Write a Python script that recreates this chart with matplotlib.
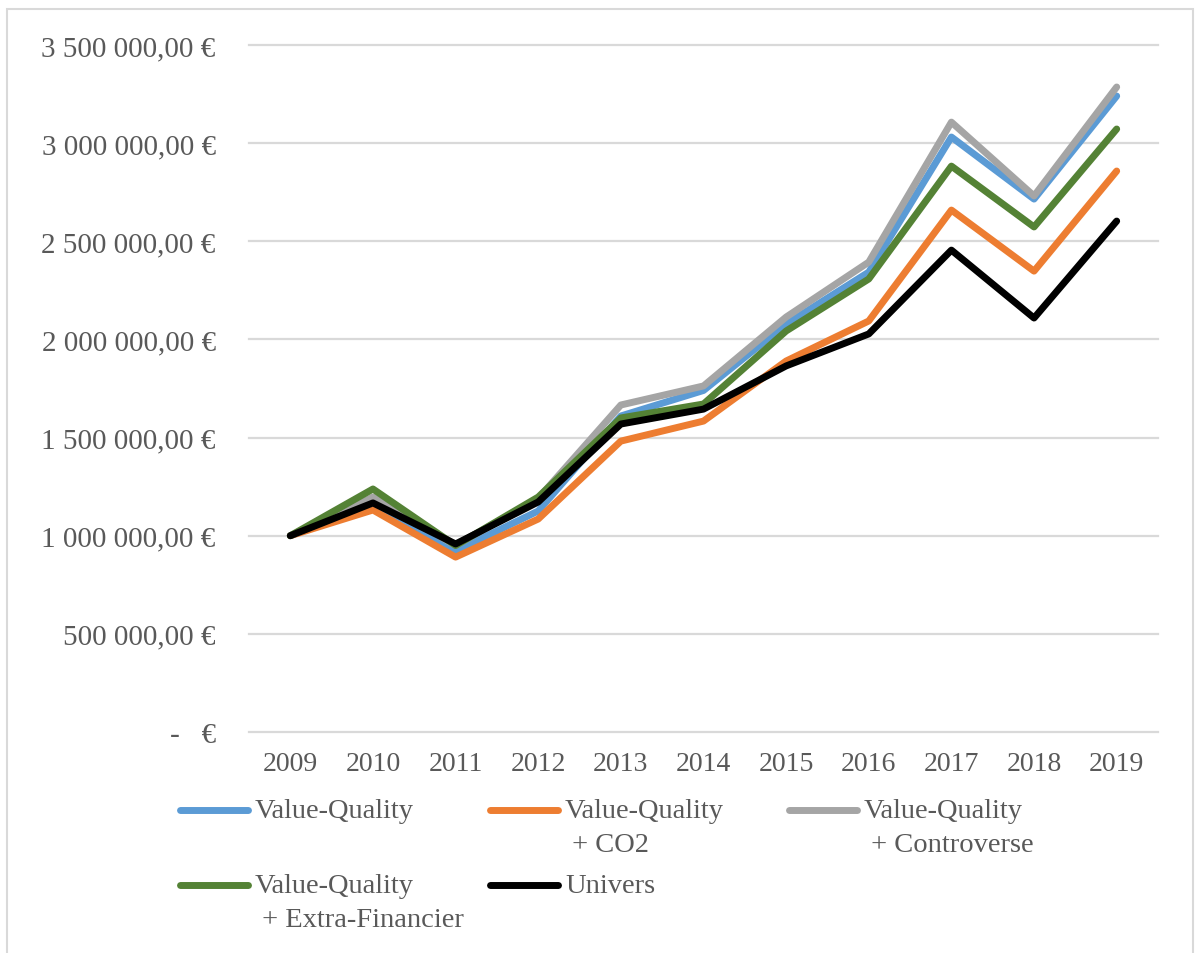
import matplotlib
matplotlib.use('Agg')
import matplotlib.pyplot as plt
from matplotlib.lines import Line2D
from matplotlib.patches import Rectangle
from matplotlib.ticker import FuncFormatter, MultipleLocator

plt.rcParams['font.family'] = ['Liberation Serif', 'DejaVu Serif']

years = ['2009', '2010', '2011', '2012', '2013', '2014', '2015', '2016', '2017', '2018', '2019']

value_quality = [1000000, 1170000, 922000, 1126000, 1610000, 1740000, 2078000, 2343000, 3031000, 2715000, 3240000]
vq_co2 = [1000000, 1131000, 891000, 1085000, 1482000, 1584000, 1890000, 2094000, 2659000, 2348000, 2858000]
vq_controverse = [1000000, 1197000, 950000, 1190000, 1666000, 1763000, 2114000, 2394000, 3107000, 2731000, 3286000]
vq_extra_fin = [1000000, 1238000, 950000, 1197000, 1600000, 1671000, 2043000, 2308000, 2883000, 2573000, 3072000]
univers = [1000000, 1167000, 958000, 1172000, 1569000, 1645000, 1865000, 2028000, 2455000, 2109000, 2603000]

labels = ['Value-Quality', 'Value-Quality\n + CO2', 'Value-Quality\n + Controverse',
          'Value-Quality\n + Extra-Financier', 'Univers']
colors = ['#5B9BD5', '#ED7D31', '#A5A5A5', '#548235', '#000000']
series = [value_quality, vq_co2, vq_controverse, vq_extra_fin, univers]

W, H = 1195, 954
text_col = '#595959'
grid_col = '#D9D9D9'


def fx(x):
    return x / W


def fy(y):
    return 1 - y / H


def euro(v, pos):
    if v == 0:
        return '-   €'
    s = f'{v:,.2f}'.replace(',', ' ').replace('.', ',')
    return s + ' €'


fig = plt.figure(figsize=(W / 100, H / 100), dpi=100)
ax = fig.add_axes([fx(249), fy(733), (1158 - 249) / W, (733 - 46) / H])

x = list(range(len(years)))
for vals, col in zip(series, colors):
    ax.plot(x, vals, color=col, lw=5, solid_capstyle='round', solid_joinstyle='round', zorder=3)

ax.set_xlim(-0.5, len(years) - 0.5)
ax.set_ylim(0, 3500000)
ax.yaxis.set_major_locator(MultipleLocator(500000))
ax.yaxis.set_major_formatter(FuncFormatter(euro))
ax.set_xticks(x)
ax.set_xticklabels(years)

ax.grid(axis='y', color=grid_col, lw=1.6)
for gl in ax.get_ygridlines():
    gl.set_clip_on(False)
for sp in ax.spines.values():
    sp.set_visible(False)
ax.tick_params(axis='both', length=0, labelcolor=text_col)
ax.tick_params(axis='y', pad=24, labelsize=21)
ax.tick_params(axis='x', pad=14, labelsize=20)

# legend below the plot, handles level with the first line of each label
slots = [(180, 811), (490, 811), (789, 811), (180, 886), (490, 886)]
for lab, col, (lx, ly) in zip(labels, colors, slots):
    fig.add_artist(Line2D([fx(lx), fx(lx + 68)], [fy(ly), fy(ly)], transform=fig.transFigure,
                          color=col, lw=5, solid_capstyle='round'))
    fig.text(fx(lx + 75), fy(ly - 12), lab, ha='left', va='top', fontsize=20.5,
             color=text_col, linespacing=1.45)

# chart area border
fig.add_artist(Rectangle((fx(7), fy(970)), (1193 - 7) / W, (970 - 10) / H,
                         transform=fig.transFigure, fill=False, edgecolor=grid_col, lw=1.5))

fig.savefig('out.png', dpi=100)
